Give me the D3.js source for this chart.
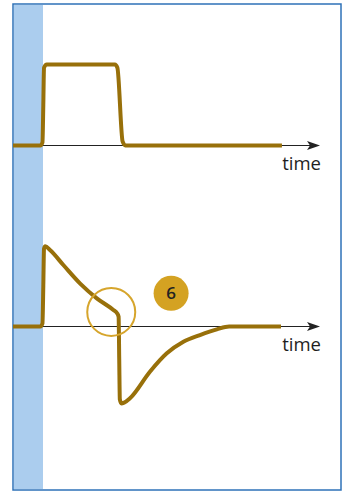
<!DOCTYPE html>
<html>
<head>
<meta charset="utf-8">
<script src="https://cdn.jsdelivr.net/npm/d3@7"></script>
<style>
  body { margin: 0; background: #fff; }
  svg { display: block; }
</style>
</head>
<body>
<div id="chart"></div>
<script>
// time in arbitrary units (0..100 across the axis), value relative to pulse height
const topTimes    = [0, 8.9, 9.6, 9.87, 10.1, 11.0, 33.2, 34.0, 35.7, 36.6, 87.6];
const topValues   = [0, 0,   0.04, 0.5, 0.96, 1,    1,    0.96, 0.05, 0,   0];

const bottomTimes  = [0, 8.9, 9.6, 9.87, 10.1, 10.5, 12.05, 16.4, 21.8, 27.3, 32.7, 33.9, 34.4, 34.6, 34.8, 35.3, 36.2, 38.1, 44.6, 50.1, 55.5, 60.9, 66.4, 70.4, 87.3];
const bottomValues = [0, 0,   0.04, 0.5, 0.96, 0.99, 0.944, 0.759, 0.533, 0.348, 0.204, 0.165, 0.12, -0.4, -0.9, -0.95, -0.94, -0.886, -0.558, -0.331, -0.188, -0.105, -0.035, 0, 0];

const axisLabel = "time";
const markerLabel = "6";
const highlightTime = 32.0, highlightValue = 0.18;  // circled point on lower curve
const markerTime = 51.5, markerValue = 0.41;        // numbered badge

const width = 346, height = 492;
const frame = { left: 13, top: 4, right: 341, bottom: 490 };

const svg = d3.select("#chart").append("svg")
    .attr("width", width)
    .attr("height", height);

// frame and shaded start band
svg.append("rect")
    .attr("x", frame.left + 1)
    .attr("y", frame.top + 1)
    .attr("width", 29)
    .attr("height", frame.bottom - frame.top - 2)
    .attr("fill", "#abcdee");

svg.append("rect")
    .attr("x", frame.left)
    .attr("y", frame.top)
    .attr("width", frame.right - frame.left)
    .attr("height", frame.bottom - frame.top)
    .attr("fill", "none")
    .attr("stroke", "#2e72b8")
    .attr("stroke-width", 1.5);

const x = d3.scaleLinear().domain([0, 100]).range([frame.left, 320]);

const panels = [
    { times: topTimes, values: topValues, baseY: 145.5 },
    { times: bottomTimes, values: bottomValues, baseY: 326.5 }
];

const lineColor = "#98700a";

panels.forEach((p, idx) => {
    const y = d3.scaleLinear().domain([0, 1]).range([p.baseY, p.baseY - 81]);
    p.y = y;
    const g = svg.append("g").attr("class", "panel-" + idx);

    // time axis with arrow
    g.append("line")
        .attr("x1", x(0))
        .attr("x2", x(100) - 6)
        .attr("y1", y(0))
        .attr("y2", y(0))
        .attr("stroke", "#222")
        .attr("stroke-width", 1.2);

    const tip = x(100);
    g.append("path")
        .attr("d", `M${tip},${y(0)} L${tip - 13},${y(0) - 4.5} L${tip - 10},${y(0)} L${tip - 13},${y(0) + 4.5} Z`)
        .attr("fill", "#222");

    g.append("text")
        .attr("x", tip + 1)
        .attr("y", y(0) + 24)
        .attr("text-anchor", "end")
        .attr("font-family", "'Open Sans', sans-serif")
        .attr("font-size", 18.5)
        .attr("fill", "#1e1e1e")
        .text(axisLabel);

    const line = d3.line()
        .x((d, i) => x(p.times[i]))
        .y(d => y(d))
        .curve(d3.curveMonotoneX);

    g.append("path")
        .attr("d", line(p.values))
        .attr("fill", "none")
        .attr("stroke", lineColor)
        .attr("stroke-width", 4)
        .attr("stroke-linejoin", "round")
        .attr("stroke-linecap", "butt");
});

const yb = panels[1].y;

svg.append("circle")
    .attr("cx", x(highlightTime))
    .attr("cy", yb(highlightValue))
    .attr("r", 24)
    .attr("fill", "none")
    .attr("stroke", "#d6a52c")
    .attr("stroke-width", 2);

svg.append("circle")
    .attr("cx", x(markerTime))
    .attr("cy", yb(markerValue))
    .attr("r", 17.5)
    .attr("fill", "#d4a222");

svg.append("text")
    .attr("x", x(markerTime))
    .attr("y", yb(markerValue) + 6)
    .attr("text-anchor", "middle")
    .attr("font-family", "'Open Sans', sans-serif")
    .attr("font-weight", 600)
    .attr("font-size", 17)
    .attr("fill", "#222")
    .text(markerLabel);
</script>
</body>
</html>
